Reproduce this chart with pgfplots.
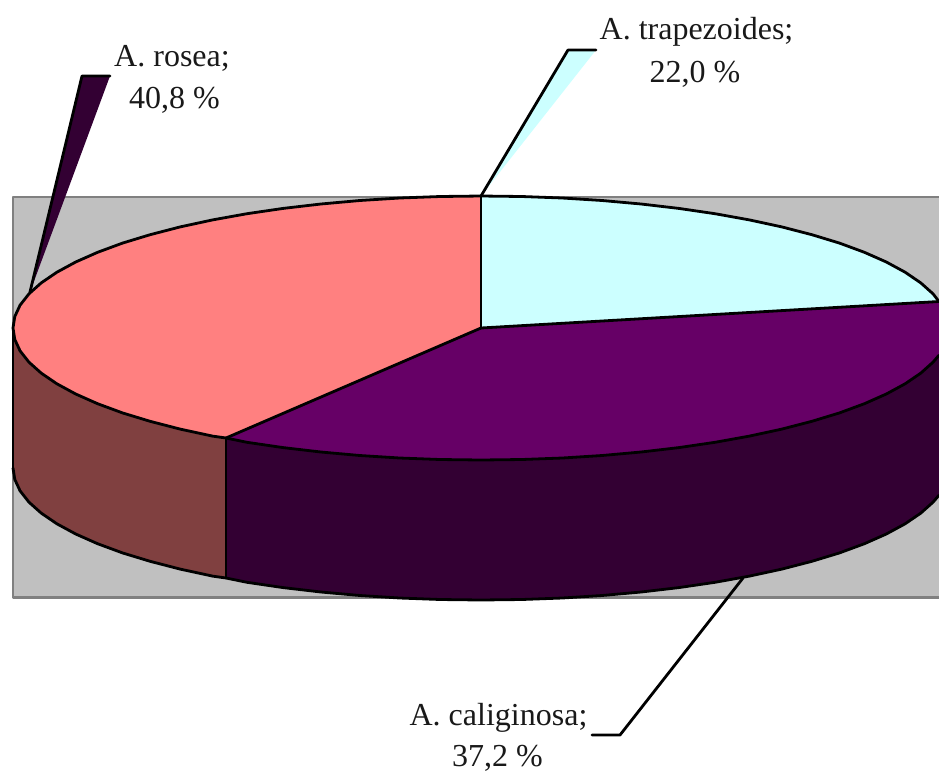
\documentclass[border=0pt]{standalone}
\usepackage{pgfplots}
\pgfplotsset{compat=1.18}
\usepackage{fontspec}
\setmainfont{Liberation Serif}
\definecolor{bg}{HTML}{C0C0C0}
\definecolor{bgline}{HTML}{808080}
\definecolor{cTrap}{HTML}{CCFFFF}
\definecolor{cCal}{HTML}{660066}
\definecolor{cCalS}{HTML}{330033}
\definecolor{cRos}{HTML}{FF8080}
\definecolor{cRosS}{HTML}{804040}
\newcommand{\lab}[3]{\node[anchor=base,inner sep=0pt,text=black!90] at (axis cs:#1,#2) {\fontsize{32}{38}\selectfont #3};}
\begin{document}
\begin{tikzpicture}
\useasboundingbox (0,0) rectangle (939pt,772pt);
\begin{axis}[
  at={(0,0)},anchor=south west,
  scale only axis,width=939pt,height=772pt,
  xmin=0,xmax=939,ymin=0,ymax=772,y dir=reverse,
  hide axis,clip=true,
  line join=round,line cap=round
]
% background wall
\addplot[fill=bg,draw=none] coordinates {(13,197)(939,197)(939,597.5)(13,597.5)} -- cycle;
\addplot[draw=bgline,line width=2.4pt,line cap=butt] coordinates {(939,197)(13,197)(13,597.5)(939,597.5)};
% leaders
\addplot[fill=cCalS,draw=none] coordinates {(30,292)(82,76)(110,76)} -- cycle;
\addplot[black,line width=2.8pt] coordinates {(30,292)(82,76)(110,76)};
\addplot[fill=cTrap,draw=none] coordinates {(481,196)(568,50)(596,50)} -- cycle;
\addplot[black,line width=2.8pt] coordinates {(481,196)(568,50)(596,50)};
\addplot[black,line width=2.8pt] coordinates {(743,578)(620,735)(592,735)};
% side faces
\addplot[fill=cRosS,draw=none] coordinates {
 (13,328)(14.8,339.5)(20.1,350.9)(29,362.2)(41.2,373.1)(56.9,383.8)(75.7,394)(97.6,403.7)(122.5,412.9)(150.1,421.3)(180.2,429.1)(212.6,436.1)(226,438)
 (226,578)(212.6,576.1)(180.2,569.1)(150.1,561.3)(122.5,552.9)(97.6,543.7)(75.7,534)(56.9,523.8)(41.2,513.1)(29,502.2)(20.1,490.9)(14.8,479.5)(13,468)} -- cycle;
\addplot[fill=cCalS,draw=none] coordinates {
 (226,438)(247,442.3)(283.2,447.6)(320.9,452)(359.9,455.5)(399.7,458)(440.2,459.5)(481,460)(521.8,459.5)(562.3,458)(602.1,455.5)(641.1,452)(678.8,447.6)(715,442.3)(749.4,436.1)(781.8,429.1)(811.9,421.3)(839.5,412.9)(864.4,403.7)(886.3,394)(905.1,383.8)(920.8,373.1)(933,362.2)(939,355.2)
 (939,495.2)(933,502.2)(920.8,513.1)(905.1,523.8)(886.3,534)(864.4,543.7)(839.5,552.9)(811.9,561.3)(781.8,569.1)(749.4,576.1)(715,582.3)(678.8,587.6)(641.1,592)(602.1,595.5)(562.3,598)(521.8,599.5)(481,600)(440.2,599.5)(399.7,598)(359.9,595.5)(320.9,592)(283.2,587.6)(247,582.3)(226,578)} -- cycle;
% bottom rim and verticals
\addplot[black,line width=2.8pt] coordinates {
 (13,468)(14.8,479.5)(20.1,490.9)(29,502.2)(41.2,513.1)(56.9,523.8)(75.7,534)(97.6,543.7)(122.5,552.9)(150.1,561.3)(180.2,569.1)(212.6,576.1)(226,578)(247,582.3)(283.2,587.6)(320.9,592)(359.9,595.5)(399.7,598)(440.2,599.5)(481,600)(521.8,599.5)(562.3,598)(602.1,595.5)(641.1,592)(678.8,587.6)(715,582.3)(749.4,576.1)(781.8,569.1)(811.9,561.3)(839.5,552.9)(864.4,543.7)(886.3,534)(905.1,523.8)(920.8,513.1)(933,502.2)(939,495.2)};
\addplot[black,line width=2.8pt] coordinates {(13,328)(13,468)};
\addplot[black,line width=2.8pt] coordinates {(226,438)(226,578)};
% top faces
\addplot[fill=cRos,draw=none] coordinates {
 (481,328)(226,438)(212.6,436.1)(180.2,429.1)(150.1,421.3)(122.5,412.9)(97.6,403.7)(75.7,394)(56.9,383.8)(41.2,373.1)(29,362.2)(20.1,350.9)(14.8,339.5)(13,328)(14.8,316.5)(20.1,305.1)(29,293.8)(41.2,282.9)(56.9,272.2)(75.7,262)(97.6,252.3)(122.5,243.1)(150.1,234.7)(180.2,226.9)(212.6,219.9)(247,213.7)(283.2,208.4)(320.9,204)(359.9,200.5)(399.7,198)(440.2,196.5)(481,196)} -- cycle;
\addplot[fill=cTrap,draw=none] coordinates {
 (481,328)(481,196)(521.8,196.5)(562.3,198)(602.1,200.5)(641.1,204)(678.8,208.4)(715,213.7)(749.4,219.9)(781.8,226.9)(811.9,234.7)(839.5,243.1)(864.4,252.3)(886.3,262)(905.1,272.2)(920.8,282.9)(933,293.8)(939,301.5)} -- cycle;
\addplot[fill=cCal,draw=none] coordinates {
 (481,328)(939,301.5)(939,355.2)(933,362.2)(920.8,373.1)(905.1,383.8)(886.3,394)(864.4,403.7)(839.5,412.9)(811.9,421.3)(781.8,429.1)(749.4,436.1)(715,442.3)(678.8,447.6)(641.1,452)(602.1,455.5)(562.3,458)(521.8,459.5)(481,460)(440.2,459.5)(399.7,458)(359.9,455.5)(320.9,452)(283.2,447.6)(247,442.3)(226,438)} -- cycle;
% top rim
\addplot[black,line width=2.8pt] coordinates {
 (939,355.2)(933,362.2)(920.8,373.1)(905.1,383.8)(886.3,394)(864.4,403.7)(839.5,412.9)(811.9,421.3)(781.8,429.1)(749.4,436.1)(715,442.3)(678.8,447.6)(641.1,452)(602.1,455.5)(562.3,458)(521.8,459.5)(481,460)(440.2,459.5)(399.7,458)(359.9,455.5)(320.9,452)(283.2,447.6)(247,442.3)(226,438)(212.6,436.1)(180.2,429.1)(150.1,421.3)(122.5,412.9)(97.6,403.7)(75.7,394)(56.9,383.8)(41.2,373.1)(29,362.2)(20.1,350.9)(14.8,339.5)(13,328)(14.8,316.5)(20.1,305.1)(29,293.8)(41.2,282.9)(56.9,272.2)(75.7,262)(97.6,252.3)(122.5,243.1)(150.1,234.7)(180.2,226.9)(212.6,219.9)(247,213.7)(283.2,208.4)(320.9,204)(359.9,200.5)(399.7,198)(440.2,196.5)(481,196)(521.8,196.5)(562.3,198)(602.1,200.5)(641.1,204)(678.8,208.4)(715,213.7)(749.4,219.9)(781.8,226.9)(811.9,234.7)(839.5,243.1)(864.4,252.3)(886.3,262)(905.1,272.2)(920.8,282.9)(933,293.8)(939,301.5)};
% radii
\addplot[black,line width=2.8pt] coordinates {(226,438)(481,328)(939,301.5)};
\addplot[black,line width=2.8pt] coordinates {(481,196)(481,328)};
% labels
\lab{172}{66}{A. rosea;}
\lab{174.5}{108.7}{40,8 \%}
\lab{696.5}{39}{A. trapezoides;}
\lab{695}{82.7}{22,0 \%}
\lab{498.5}{725}{A. caliginosa;}
\lab{497.5}{766}{37,2 \%}
\end{axis}
\end{tikzpicture}
\end{document}
